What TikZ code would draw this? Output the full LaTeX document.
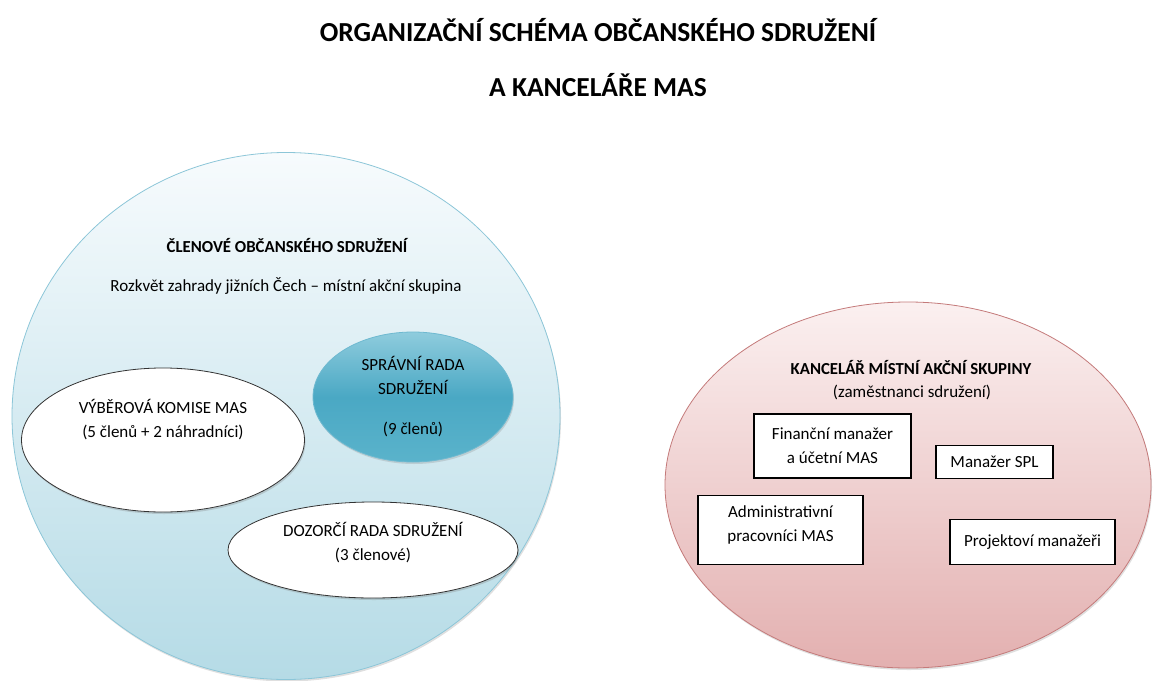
\documentclass[tikz,border=0pt]{standalone}
\usepackage{fontspec}
\setmainfont{Carlito}
\usetikzlibrary{shapes.geometric, shadows}

\definecolor{ringBlue}{HTML}{8CC6D8}
\definecolor{fillBlueTop}{HTML}{F7FBFD}
\definecolor{fillBlueBot}{HTML}{B5DBE6}
\definecolor{ringRed}{HTML}{C47A7A}
\definecolor{fillRedTop}{HTML}{FBF0F0}
\definecolor{fillRedBot}{HTML}{E3B0B0}
\definecolor{boardTop}{HTML}{8FCCDD}
\definecolor{boardMid}{HTML}{4AA8C4}
\definecolor{boardBot}{HTML}{5AB3CB}

\begin{document}
\begin{tikzpicture}[x=1pt, y=-1pt,
    txt/.style={align=center, inner sep=0pt, font=\fontsize{17}{24}\selectfont},
    head/.style={txt, font=\fontsize{16.8}{24}\selectfont\bfseries},
    oval/.style={ellipse, draw=black!80, line width=0.8pt, fill=white, inner sep=0pt,
      drop shadow={shadow xshift=1pt, shadow yshift=-2pt, opacity=0.3}},
    group/.style={ellipse, inner sep=0pt, line width=0.8pt,
      drop shadow={shadow xshift=1pt, shadow yshift=-2pt, opacity=0.25}},
    box/.style={draw, line width=1.1pt, fill=white, inner sep=0pt, align=center,
      font=\fontsize{17}{24}\selectfont}]

  \useasboundingbox (0,0) rectangle (1153,680);

  % nadpis
  \node[font=\fontsize{27.5}{30}\selectfont\bfseries] (title1) at (598,30)
    {ORGANIZAČNÍ SCHÉMA OBČANSKÉHO SDRUŽENÍ};
  \node[font=\fontsize{27.5}{30}\selectfont\bfseries] (title2) at (598,85)
    {A KANCELÁŘE MAS};

  % obcanske sdruzeni
  \node[group, draw=ringBlue, top color=fillBlueTop, bottom color=fillBlueBot,
    minimum width=548, minimum height=527] (clenove) at (286,416) {};
  \node[head] (clenoveHead) at (287,246) {ČLENOVÉ OBČANSKÉHO SDRUŽENÍ};
  \node[txt] (clenoveSub) at (286,286)
    {Rozkvět zahrady jižních Čech – místní akční skupina};

  \node[group, txt, draw=boardMid!80, top color=boardTop, bottom color=boardBot,
    middle color=boardMid, minimum width=200, minimum height=130] (spravni) at (413,397)
    {SPRÁVNÍ RADA\\SDRUŽENÍ\\[16pt](9 členů)};

  \node[oval, minimum width=283, minimum height=144] (vyberova) at (163,440) {};
  \node[txt] (vyberovaText) at ([yshift=20pt]vyberova.center)
    {VÝBĚROVÁ KOMISE MAS\\(5 členů + 2 náhradníci)};

  \node[oval, minimum width=290, minimum height=96] (dozorci) at (373,550) {};
  \node[txt] (dozorciText) at ([yshift=7pt]dozorci.center)
    {DOZORČÍ RADA SDRUŽENÍ\\(3 členové)};

  % kancelar MAS
  \node[group, draw=ringRed, top color=fillRedTop, bottom color=fillRedBot,
    minimum width=486, minimum height=366] (kancelar) at (908,485) {};
  \node[head] (kancelarHead) at (911,368) {KANCELÁŘ MÍSTNÍ AKČNÍ SKUPINY};
  \node[txt] (kancelarSub) at (912,392) {(zaměstnanci sdružení)};

  \node[box, minimum width=157, minimum height=64] (financni) at (832.5,446)
    {Finanční manažer\\a účetní MAS};
  \node[box, minimum width=117, minimum height=33] (spl) at (994.5,462)
    {Manažer SPL};
  \node[box, minimum width=165, minimum height=69] (admin) at (780.5,530) {};
  \node[txt] (adminText) at ([yshift=5pt]admin.center)
    {Administrativní\\pracovníci MAS};
  \node[box, minimum width=165, minimum height=45] (projekt) at (1032.5,542)
    {Projektoví manažeři};

\end{tikzpicture}
\end{document}
